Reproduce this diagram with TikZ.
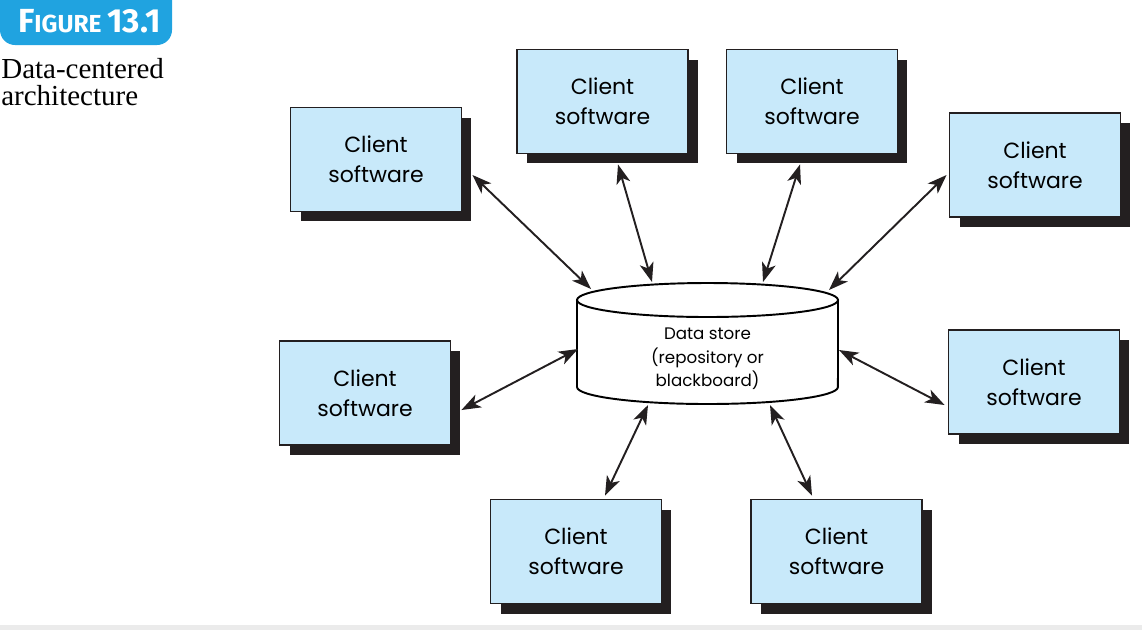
\documentclass[tikz,border=0pt]{standalone}
\usepackage{fontspec}
\setmainfont{Liberation Serif}
\newfontfamily\boxfont{Poppins}
\newfontfamily\tagfont{Fira Sans}
\usetikzlibrary{arrows.meta,shadows}
\definecolor{clientblue}{RGB}{200,233,250}
\definecolor{shadowblack}{RGB}{35,31,32}
\definecolor{tagblue}{RGB}{32,163,224}

\begin{document}
\begin{tikzpicture}[x = 0.02cm, y = -0.02cm,
	client/.style = {draw = shadowblack, line width = 1.1pt, fill = clientblue,
		minimum width = 3.42cm, minimum height = 2.08cm, align = center,
		font = \boxfont\fontsize{12.5}{17}\selectfont,
		general shadow = {fill = shadowblack, shadow xshift = .2cm, shadow yshift = -.2cm}},
	link/.style = {<->, >={Stealth[length = 11pt, width = 8pt, inset = 3pt]}, line width = 1.1pt, shadowblack}]
	\useasboundingbox (0,0) rectangle (1142,630);

	% figure tag and caption
	\fill [tagblue, rounded corners = .3cm] (0,-20) rectangle (172,45);
	\node [anchor = west, text = white, font = \tagfont\bfseries] (tag) at (12,21)
		{\fontsize{19}{19}\selectfont F\fontsize{14}{19}\selectfont IGURE\ \fontsize{19}{19}\selectfont 13.1};
	\node [anchor = north west, align = left, inner sep = 0pt, font = \fontsize{16.5}{15.5}\selectfont] (caption) at (1,58) {Data-centered\\architecture};

	% data store
	\draw [line width = 1.1pt, fill = white] (577,300) -- (577,387)
		arc [start angle = 180, end angle = 360, x radius = 2.61cm, y radius = .34cm] -- (838,300) -- cycle;
	\draw [line width = 1.1pt, fill = white] (707.5,300) ellipse [x radius = 2.61cm, y radius = .34cm];
	\node [align = center, font = \boxfont\fontsize{9.5}{13.5}\selectfont] (store) at (707.5,359) {Data store\\(repository or\\blackboard)};
	\coordinate (s1) at (591,289);
	\coordinate (s2) at (652,282);
	\coordinate (s3) at (763,282);
	\coordinate (s4) at (829,290);
	\coordinate (s5) at (578,349);
	\coordinate (s6) at (839,350);
	\coordinate (s7) at (648,405);
	\coordinate (s8) at (770,405);

	% clients
	\node [client] (c1) at (376,159.5) {Client\\software};
	\node [client] (c2) at (602.5,101.5) {Client\\software};
	\node [client] (c3) at (812,101.5) {Client\\software};
	\node [client] (c4) at (1035,165) {Client\\software};
	\node [client] (c5) at (365,393) {Client\\software};
	\node [client] (c6) at (1034,382) {Client\\software};
	\node [client] (c7) at (576,551.5) {Client\\software};
	\node [client] (c8) at (836.5,551.5) {Client\\software};

	% connectors
	\draw [link] ([shift = {(10,15.5)}]c1.east) -- (s1);
	\draw [link] ([shift = {(15.5,10)}]c2.south) -- (s2);
	\draw [link] ([shift = {(-12,10)}]c3.south) -- (s3);
	\draw [link] ([shift = {(-2,10)}]c4.west) -- (s4);
	\draw [link] ([shift = {(10,17)}]c5.east) -- (s5);
	\draw [link] ([shift = {(-3,23)}]c6.west) -- (s6);
	\draw [link] ([shift = {(29,-3)}]c7.north) -- (s7);
	\draw [link] ([shift = {(-24.5,-3)}]c8.north) -- (s8);

	\fill [black!8] (0,625) rectangle (1142,630);
\end{tikzpicture}
\end{document}
